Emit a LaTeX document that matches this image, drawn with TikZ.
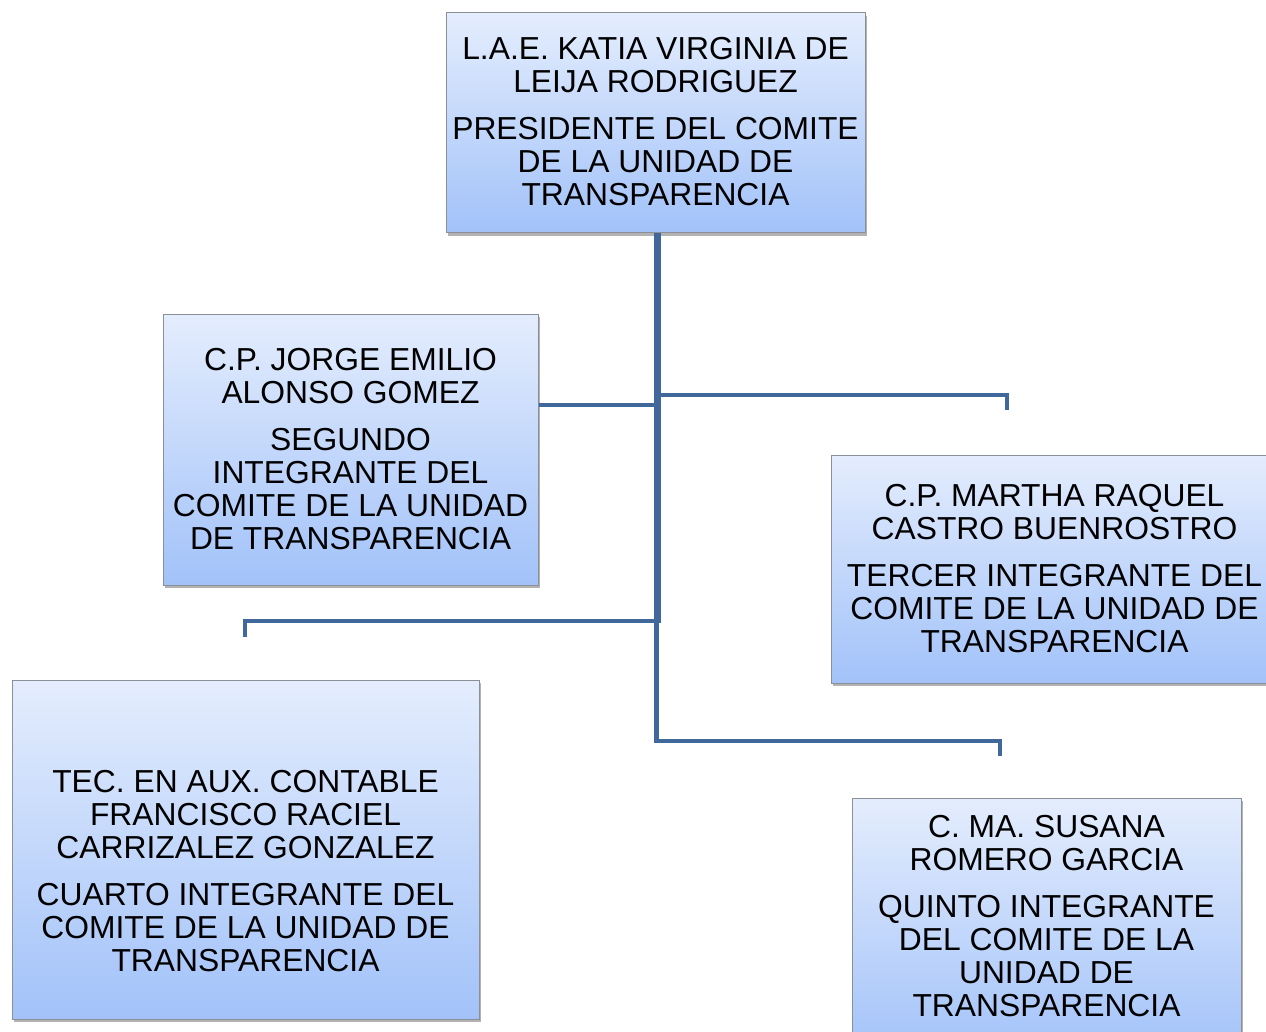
\documentclass[tikz,border=0pt]{standalone}
\usepackage{fontspec}
\setmainfont{Liberation Sans}
\usetikzlibrary{shadows}
\definecolor{linec}{HTML}{41689A}
\definecolor{boxtop}{HTML}{E4EDFD}
\definecolor{boxbot}{HTML}{A2C2F9}
\definecolor{boxedge}{HTML}{8A8F98}
\tikzset{
  box/.style={draw=boxedge, line width=1pt, top color=boxtop, bottom color=boxbot,
    inner sep=0pt, drop shadow={shadow xshift=2pt, shadow yshift=-3pt, opacity=0.3, fill=black}},
  lbl/.style={align=center, inner sep=0pt, font=\fontsize{31.8}{33}\selectfont},
  conn/.style={draw=linec, line width=4.5pt},
  trunk/.style={draw=linec, line width=7pt}
}
\begin{document}
\begin{tikzpicture}[x=1pt, y=-1pt]
\useasboundingbox (0,0) rectangle (1266,1032);
% boxes
\node[box, minimum width=419pt, minimum height=220pt] (top) at (655.5,123) {};
\node[box, minimum width=375pt, minimum height=271pt] (n2) at (350.5,449.5) {};
\node[box, minimum width=447pt, minimum height=228pt] (n3) at (1054.5,569) {};
\node[box, minimum width=467pt, minimum height=339pt] (n4) at (245.5,849.5) {};
\node[box, minimum width=389pt, minimum height=260pt] (n5) at (1046.5,928) {};
% texts
\node[lbl] (t1) at (655.5,121.5) {L.A.E. KATIA VIRGINIA DE\\LEIJA RODRIGUEZ\\[14pt]PRESIDENTE DEL COMITE\\DE LA UNIDAD DE\\TRANSPARENCIA};
\node[lbl] (t2) at (350.5,449.5) {C.P. JORGE EMILIO\\ALONSO GOMEZ\\[14pt]SEGUNDO\\INTEGRANTE DEL\\COMITE DE LA UNIDAD\\DE TRANSPARENCIA};
\node[lbl] (t3) at (1054.5,568.5) {C.P. MARTHA RAQUEL\\CASTRO BUENROSTRO\\[14pt]TERCER INTEGRANTE DEL\\COMITE DE LA UNIDAD DE\\TRANSPARENCIA};
\node[lbl] (t4) at (245.5,871.5) {TEC. EN AUX. CONTABLE\\FRANCISCO RACIEL\\CARRIZALEZ GONZALEZ\\[14pt]CUARTO INTEGRANTE DEL\\COMITE DE LA UNIDAD DE\\TRANSPARENCIA};
\node[lbl] (t5) at (1046.5,916.5) {C. MA. SUSANA\\ROMERO GARCIA\\[14pt]QUINTO INTEGRANTE\\DEL COMITE DE LA\\UNIDAD DE\\TRANSPARENCIA};
% connector coordinates
\coordinate (j1) at (657,621);
\coordinate (c2) at (655,405);
\coordinate (r1) at (659,395);
\coordinate (r2) at (1007,395);
\coordinate (r3) at (1007,410);
\coordinate (l2) at (245,621);
\coordinate (l3) at (245,637);
\coordinate (d1) at (656.5,618);
\coordinate (d2) at (656.5,741);
\coordinate (d3) at (1000,741);
\coordinate (d4) at (1000,756);
% connectors
\draw[conn] (n2.east |- c2) -- (c2);
\draw[conn] (r1) -- (r2) -- (r3);
\draw[conn] (j1) -- (l2) -- (l3);
\draw[conn] (d1) -- (d2) -- (d3) -- (d4);
\draw[trunk] (top.south -| j1) -- ([yshift=-2pt]j1);
\end{tikzpicture}
\end{document}
